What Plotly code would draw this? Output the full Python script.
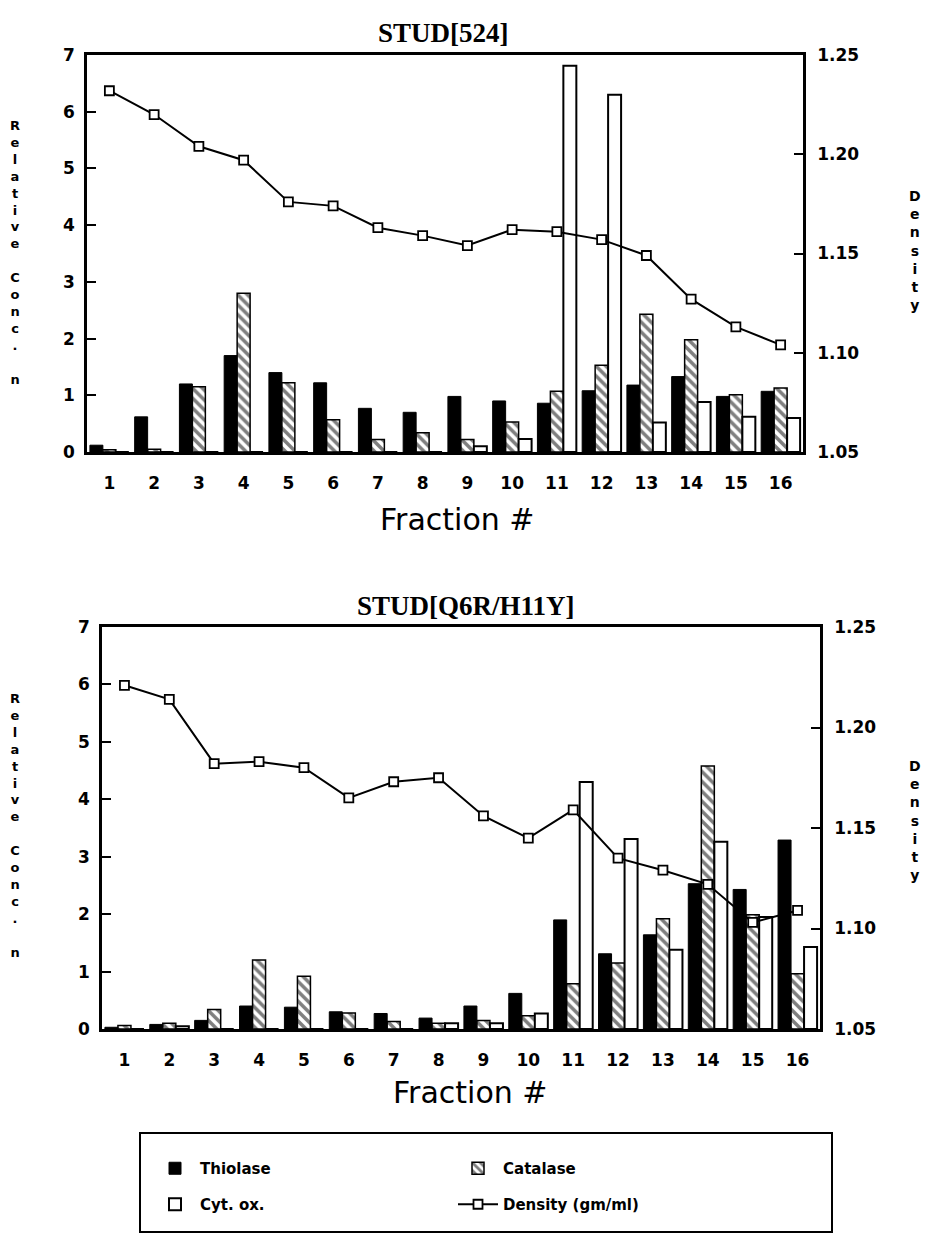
import plotly.graph_objects as go

fractions = list(range(1, 17))
tick_text = [str(f) for f in fractions]

# Panel A: STUD[524]
a_thiolase = [0.12, 0.62, 1.20, 1.70, 1.40, 1.22, 0.77, 0.70, 0.98, 0.90, 0.86, 1.08, 1.18, 1.33, 0.98, 1.07]
a_catalase = [0.04, 0.05, 1.15, 2.80, 1.22, 0.57, 0.22, 0.34, 0.22, 0.53, 1.07, 1.53, 2.43, 1.98, 1.01, 1.13]
a_cytox = [0, 0, 0, 0, 0, 0, 0, 0, 0.10, 0.23, 6.81, 6.30, 0.52, 0.88, 0.62, 0.60]
a_density = [1.232, 1.220, 1.204, 1.197, 1.176, 1.174, 1.163, 1.159, 1.154, 1.162, 1.161, 1.157, 1.149, 1.127, 1.113, 1.104]

# Panel B: STUD[Q6R/H11Y]
b_thiolase = [0.03, 0.08, 0.15, 0.40, 0.38, 0.30, 0.27, 0.19, 0.40, 0.62, 1.90, 1.31, 1.64, 2.53, 2.43, 3.29]
b_catalase = [0.06, 0.10, 0.34, 1.20, 0.92, 0.28, 0.13, 0.10, 0.15, 0.23, 0.79, 1.15, 1.92, 4.58, 1.99, 0.96]
b_cytox = [0, 0.05, 0, 0, 0, 0, 0, 0.10, 0.10, 0.27, 4.30, 3.31, 1.38, 3.26, 1.95, 1.43]
b_density = [1.221, 1.214, 1.182, 1.183, 1.180, 1.165, 1.173, 1.175, 1.156, 1.145, 1.159, 1.135, 1.129, 1.122, 1.103, 1.109]

left_ticks = [0, 1, 2, 3, 4, 5, 6, 7]
right_ticks = [1.05, 1.10, 1.15, 1.20, 1.25]
right_tick_text = ["1.05", "1.10", "1.15", "1.20", "1.25"]

W, H = 942, 1235
SANS = "DejaVu Sans"
SERIF = "Liberation Serif"

fig = go.Figure()


def add_panel(xa, ya, ya2, thio, cat, cyt, dens, show):
    fig.add_trace(go.Bar(
        x=fractions, y=thio, xaxis=xa, yaxis=ya, name="Thiolase",
        marker=dict(color="black", line=dict(color="black", width=1)),
        showlegend=show, legend="legend"))
    fig.add_trace(go.Bar(
        x=fractions, y=cat, xaxis=xa, yaxis=ya, name="Catalase",
        marker=dict(color="white", line=dict(color="black", width=1.5),
                    pattern=dict(shape="\\", fgcolor="black", bgcolor="white",
                                 size=7, solidity=0.5)),
        showlegend=show, legend="legend"))
    fig.add_trace(go.Bar(
        x=fractions, y=cyt, xaxis=xa, yaxis=ya, name="Cyt. ox.",
        marker=dict(color="white", line=dict(color="black", width=2)),
        showlegend=show, legend="legend2"))
    fig.add_trace(go.Scatter(
        x=fractions, y=dens, xaxis=xa, yaxis=ya2, name="Density (gm/ml)",
        mode="lines+markers",
        line=dict(color="black", width=2),
        marker=dict(symbol="square", size=9, color="white",
                    line=dict(color="black", width=1.8)),
        showlegend=show, legend="legend2"))


add_panel("x", "y", "y2", a_thiolase, a_catalase, a_cytox, a_density, True)
add_panel("x2", "y3", "y4", b_thiolase, b_catalase, b_cytox, b_density, False)


def px_x(p):
    return p / W


def px_y(p):
    return 1 - p / H


tickfont = dict(family=SANS, size=17, color="black", weight="bold")

xcommon = dict(range=[0.5, 16.5], tickmode="array", tickvals=fractions, ticktext=tick_text,
               showline=True, linecolor="black", linewidth=2.5, mirror=True,
               ticks="", showgrid=False, zeroline=False, tickfont=tickfont,
               ticklabelstandoff=14, automargin=False, fixedrange=True)
ycommon = dict(range=[0, 7], tickmode="array", tickvals=left_ticks,
               showline=True, linecolor="black", linewidth=2.5,
               ticks="inside", ticklen=9, tickwidth=2, tickcolor="black",
               showgrid=False, zeroline=False, tickfont=tickfont,
               ticklabelstandoff=6, automargin=False)
y2common = dict(range=[1.05, 1.25], tickmode="array", tickvals=right_ticks, ticktext=right_tick_text,
                side="right", showline=True, linecolor="black", linewidth=2.5,
                ticks="inside", ticklen=9, tickwidth=2, tickcolor="black",
                showgrid=False, zeroline=False, tickfont=tickfont,
                ticklabelstandoff=8, automargin=False)

top_dom_y = [px_y(452), px_y(55)]
bot_dom_y = [px_y(1029), px_y(627)]

legfont = dict(family=SANS, size=15, color="black", weight="bold")

fig.update_layout(
    width=W, height=H,
    margin=dict(l=0, r=0, t=0, b=0),
    paper_bgcolor="white", plot_bgcolor="white",
    barmode="group", bargap=0.13, bargroupgap=0.0,
    xaxis=dict(domain=[px_x(87), px_x(803)], anchor="y", **xcommon),
    yaxis=dict(domain=top_dom_y, anchor="x", **ycommon),
    yaxis2=dict(overlaying="y", anchor="x", **y2common),
    xaxis2=dict(domain=[px_x(102), px_x(820)], anchor="y3", **xcommon),
    yaxis3=dict(domain=bot_dom_y, anchor="x2", **ycommon),
    yaxis4=dict(overlaying="y3", anchor="x2", **y2common),
    legend=dict(orientation="h", x=px_x(150), y=px_y(1152), xanchor="left", yanchor="top",
                entrywidth=248, entrywidthmode="pixels", itemwidth=40,
                font=legfont, bgcolor="rgba(0,0,0,0)", borderwidth=0, traceorder="normal"),
    legend2=dict(orientation="h", x=px_x(150), y=px_y(1188), xanchor="left", yanchor="top",
                 entrywidth=248, entrywidthmode="pixels", itemwidth=40,
                 font=legfont, bgcolor="rgba(0,0,0,0)", borderwidth=0, traceorder="normal"),
    shapes=[dict(type="rect", xref="paper", yref="paper",
                 x0=px_x(140), x1=px_x(832), y0=px_y(1232), y1=px_y(1133),
                 line=dict(color="black", width=2), fillcolor="rgba(0,0,0,0)")],
)

stack = lambda s: "<br>".join(ch if ch != " " else "\u00a0" for ch in s)
lab_font = dict(family=SANS, size=13, color="black", weight="bold")
dens_font = dict(family=SANS, size=14, color="black", weight="bold")

annotations = [
    dict(text="STUD[524]", x=px_x(443), y=px_y(33),
         font=dict(family=SERIF, size=27, color="black", weight="bold")),
    dict(text="STUD[Q6R/H11Y]", x=px_x(466), y=px_y(606),
         font=dict(family=SERIF, size=27, color="black", weight="bold")),
    dict(text="Fraction #", x=px_x(457), y=px_y(519),
         font=dict(family=SANS, size=30, color="black")),
    dict(text="Fraction #", x=px_x(470), y=px_y(1092),
         font=dict(family=SANS, size=30, color="black")),
    dict(text=stack("Relative Conc. n"), x=px_x(15), y=px_y(253), font=lab_font),
    dict(text=stack("Relative Conc. n"), x=px_x(15), y=px_y(825), font=lab_font),
    dict(text=stack("Density"), x=px_x(915), y=px_y(250), font=dens_font),
    dict(text=stack("Density"), x=px_x(915), y=px_y(820), font=dens_font),
]
for a in annotations:
    a.update(xref="paper", yref="paper", showarrow=False, xanchor="center", yanchor="middle")
fig.update_layout(annotations=annotations)

fig.write_html("out.html")
